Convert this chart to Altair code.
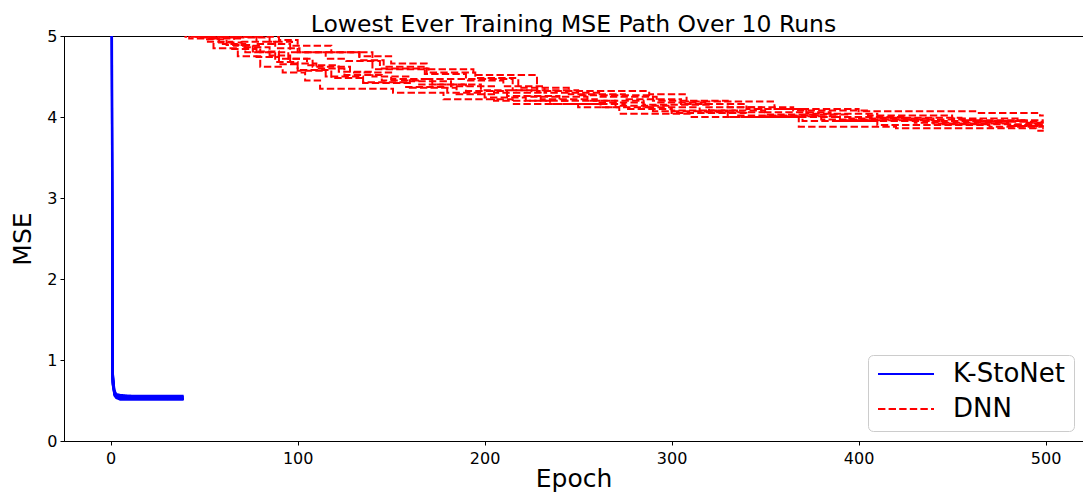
import altair as alt
import pandas as pd

FONT = "DejaVu Sans"

# ---------------- K-StoNet: lowest-ever MSE, 10 runs (epochs 0..39) ----------------
ks_epochs = [0, 1, 2, 3, 5, 9, 15, 25, 39]
ks_mse = [
    [14.2, 0.82, 0.60, 0.56, 0.55, 0.55, 0.54, 0.54, 0.54],
    [11.5, 0.74, 0.58, 0.55, 0.53, 0.53, 0.53, 0.52, 0.52],
    [17.0, 0.90, 0.62, 0.57, 0.56, 0.56, 0.56, 0.56, 0.56],
    [9.8, 0.70, 0.57, 0.54, 0.53, 0.52, 0.52, 0.52, 0.52],
    [12.6, 0.78, 0.59, 0.55, 0.54, 0.54, 0.53, 0.53, 0.53],
    [15.3, 0.85, 0.61, 0.56, 0.55, 0.54, 0.54, 0.54, 0.54],
    [10.7, 0.72, 0.56, 0.53, 0.51, 0.51, 0.51, 0.51, 0.51],
    [13.4, 0.80, 0.60, 0.55, 0.53, 0.53, 0.52, 0.52, 0.52],
    [16.1, 0.88, 0.63, 0.58, 0.57, 0.56, 0.55, 0.55, 0.55],
    [12.0, 0.76, 0.58, 0.54, 0.52, 0.52, 0.52, 0.52, 0.52],
]

# ---------------- DNN: lowest-ever MSE step paths, 10 runs (epochs 0..499) ----------------
dnn_epochs = [
    [0, 42, 55, 68, 80, 92, 104, 112, 151, 178, 215, 250, 272, 310, 368, 420, 495, 499],
    [0, 45, 60, 72, 88, 100, 118, 135, 160, 185, 205, 235, 262, 290, 330, 370, 410, 470, 499],
    [0, 48, 58, 70, 85, 96, 110, 125, 145, 165, 190, 212, 240, 270, 300, 335, 380, 430, 480, 499],
    [0, 52, 66, 80, 95, 108, 128, 150, 172, 198, 225, 255, 285, 320, 350, 395, 440, 490, 499],
    [0, 55, 70, 88, 101, 133, 146, 168, 190, 210, 232, 262, 292, 318, 348, 385, 425, 465, 499],
    [0, 60, 78, 96, 115, 126, 144, 170, 195, 218, 245, 275, 305, 340, 372, 410, 455, 490, 499],
    [0, 62, 85, 97, 118, 140, 194, 228, 288, 308, 355, 400, 463, 497, 499],
    [0, 65, 90, 100, 133, 150, 169, 215, 250, 290, 330, 365, 405, 450, 485, 499],
    [0, 40, 52, 65, 78, 90, 100, 115, 135, 158, 180, 200, 222, 245, 275, 300, 340, 390, 445, 498, 499],
    [0, 50, 62, 76, 90, 105, 122, 140, 160, 182, 205, 230, 260, 285, 315, 350, 390, 440, 480, 499],
]
dnn_mse = [
    [6.0, 4.97, 4.85, 4.75, 4.62, 4.55, 4.45, 4.35, 4.30, 4.22, 4.16, 4.12, 4.04, 4.00, 3.88, 3.86, 3.83, 3.83],
    [6.3, 4.99, 4.90, 4.80, 4.68, 4.58, 4.48, 4.42, 4.36, 4.28, 4.20, 4.16, 4.12, 4.07, 4.00, 3.95, 3.90, 3.88, 3.88],
    [6.1, 4.98, 4.92, 4.86, 4.76, 4.66, 4.60, 4.52, 4.45, 4.40, 4.32, 4.26, 4.20, 4.14, 4.08, 4.02, 3.97, 3.93, 3.90, 3.90],
    [6.4, 4.99, 4.88, 4.80, 4.72, 4.62, 4.55, 4.47, 4.40, 4.33, 4.25, 4.20, 4.15, 4.08, 4.03, 3.98, 3.95, 3.92, 3.92],
    [6.2, 4.97, 4.93, 4.85, 4.80, 4.70, 4.62, 4.53, 4.45, 4.38, 4.30, 4.25, 4.18, 4.12, 4.06, 4.00, 3.97, 3.94, 3.94],
    [6.5, 4.99, 4.90, 4.80, 4.72, 4.69, 4.60, 4.55, 4.48, 4.36, 4.28, 4.22, 4.16, 4.10, 4.04, 3.99, 3.96, 3.93, 3.93],
    [6.3, 4.98, 4.93, 4.88, 4.80, 4.59, 4.52, 4.32, 4.28, 4.19, 4.10, 4.07, 4.05, 4.02, 4.02],
    [6.6, 4.99, 4.95, 4.80, 4.75, 4.66, 4.47, 4.33, 4.27, 4.20, 4.12, 4.08, 4.02, 3.98, 3.96, 3.96],
    [6.1, 4.99, 4.93, 4.84, 4.74, 4.65, 4.57, 4.50, 4.43, 4.37, 4.30, 4.24, 4.20, 4.16, 4.10, 4.05, 4.00, 3.95, 3.91, 3.86, 3.86],
    [6.4, 4.96, 4.89, 4.81, 4.72, 4.64, 4.56, 4.50, 4.44, 4.38, 4.30, 4.22, 4.18, 4.12, 4.06, 4.01, 3.96, 3.92, 3.89, 3.89],
]

models = ["K-StoNet", "DNN"]
colors = ["#0000ff", "#ff0000"]
dashes = [[1, 0], [7.4, 3.2]]
x_ticks = [0, 100, 200, 300, 400, 500]
y_ticks = [0, 1, 2, 3, 4, 5]

ks_rows = []
for r, vals in enumerate(ks_mse):
    for e, v in zip(ks_epochs, vals):
        ks_rows.append({"model": "K-StoNet", "run": r, "epoch": e, "mse": v})
dnn_rows = []
for r, (eps, vals) in enumerate(zip(dnn_epochs, dnn_mse)):
    for e, v in zip(eps, vals):
        dnn_rows.append({"model": "DNN", "run": r, "epoch": e, "mse": v})

ks_df = pd.DataFrame(ks_rows)
dnn_df = pd.DataFrame(dnn_rows)

legend = alt.Legend(
    title=None,
    orient="none",
    legendX=804,
    legendY=319,
    symbolType="stroke",
    symbolSize=3136,
    symbolStrokeWidth=2,
    clipHeight=20,
    labelFontSize=26,
    labelFont=FONT,
    labelColor="black",
    labelOffset=18,
    rowPadding=9,
    padding=9,
    fillColor="white",
    strokeColor="#cccccc",
    cornerRadius=5,
)

x_enc = alt.X(
    "epoch:Q",
    scale=alt.Scale(domain=[-24.95, 520.0], nice=False, zero=False),
    axis=alt.Axis(title="Epoch", values=x_ticks, format="d"),
)
y_enc = alt.Y(
    "mse:Q",
    scale=alt.Scale(domain=[0, 5], nice=False),
    axis=alt.Axis(title="MSE", values=y_ticks, format="d"),
)
color_enc = alt.Color("model:N", scale=alt.Scale(domain=models, range=colors), legend=legend)
dash_enc = alt.StrokeDash("model:N", scale=alt.Scale(domain=models, range=dashes), legend=legend)

ks_layer = alt.Chart(ks_df).mark_line(strokeWidth=2, clip=True).encode(
    x=x_enc, y=y_enc, color=color_enc, strokeDash=dash_enc, detail="run:N"
)
dnn_layer = alt.Chart(dnn_df).mark_line(strokeWidth=2, clip=True, interpolate="step-after").encode(
    x=x_enc, y=y_enc, color=color_enc, strokeDash=dash_enc, detail="run:N"
)

chart = (
    alt.layer(ks_layer, dnn_layer)
    .properties(
        width=1019,
        height=405,
        padding={"left": 56, "top": 28, "right": 0, "bottom": 51},
        autosize=alt.AutoSizeParams(type="none"),
        title=alt.Title(
            "Lowest Ever Training MSE Path Over 10 Runs",
            font=FONT,
            fontSize=23.5,
            fontWeight="normal",
            color="black",
            anchor="middle",
            offset=0,
            dy=8,
        ),
    )
    .configure_view(stroke="black", strokeWidth=1)
    .configure_axis(
        domainColor="black",
        domainWidth=1,
        tickColor="black",
        tickWidth=1,
        tickSize=4,
        labelFont=FONT,
        labelFontSize=16,
        labelColor="black",
        titleFont=FONT,
        titleFontWeight="normal",
        titleColor="black",
        grid=False,
    )
    .configure_axisX(labelPadding=5, titlePadding=0, titleFontSize=25)
    .configure_axisY(labelPadding=3, titlePadding=11, titleFontSize=25)
)

chart.save("out.html", embed_options={"renderer": "svg", "actions": False})
